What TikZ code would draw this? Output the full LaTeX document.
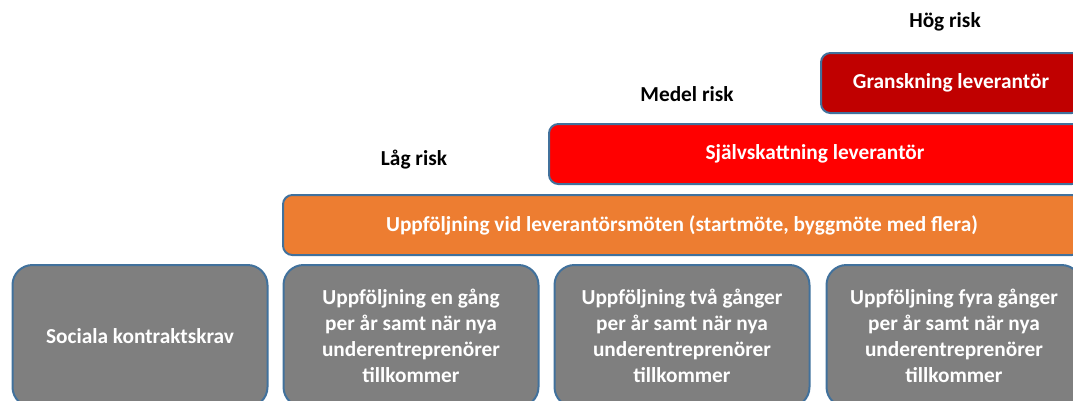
\documentclass[tikz,border=0pt]{standalone}
\usepackage{fontspec}
\setmainfont{Carlito}
\usetikzlibrary{positioning}

\definecolor{edgeblue}{HTML}{41719C}
\definecolor{darkred}{HTML}{C00000}
\definecolor{brightred}{HTML}{FF0000}
\definecolor{orangefill}{HTML}{ED7D31}
\definecolor{greyfill}{HTML}{7F7F7F}

\tikzset{
  bar/.style={draw=edgeblue, line width=1.5pt, rounded corners=7pt, text=white,
    font=\bfseries\fontsize{16}{19}\selectfont, minimum height=45pt, inner sep=0pt},
  level/.style={draw=edgeblue, line width=1.5pt, rounded corners=15pt, fill=greyfill, text=white,
    font=\bfseries\fontsize{16}{19.5}\selectfont, align=center,
    minimum width=191.25pt, minimum height=106.5pt, inner sep=0pt},
  risk/.style={font=\bfseries\fontsize{16}{19}\selectfont}
}

\begin{document}
\begin{tikzpicture}[x=0.75pt, y=-0.75pt]
\useasboundingbox (0,0) rectangle (1073,400);
\clip (0,0) rectangle (1073,400);

\node[risk] (hog) at (945,22) {Hög risk};
\node[risk] (medel) at (687,94) {Medel risk};
\node[risk] (lag) at (414,160) {Låg risk};

\node[bar, fill=darkred, minimum width=195pt] (gransk) at (951,83) {Granskning leverantör};
\node[bar, fill=brightred, minimum width=399pt] (sjalv) at (815,154) {Självskattning leverantör};
\node[bar, fill=orangefill, minimum width=598.5pt] (moten) at (682,225)
  {Uppföljning vid leverantörsmöten (startmöte, byggmöte med flera)};

\node[level] (krav) at (140,336) {Sociala kontraktskrav};
\node[level] (en) at (411,336) {Uppföljning en gång\\per år samt när nya\\underentreprenörer\\tillkommer};
\node[level] (tva) at (682,336) {Uppföljning två gånger\\per år samt när nya\\underentreprenörer\\tillkommer};
\node[level] (fyra) at (954,336) {Uppföljning fyra gånger\\per år samt när nya\\underentreprenörer\\tillkommer};

\end{tikzpicture}
\end{document}
